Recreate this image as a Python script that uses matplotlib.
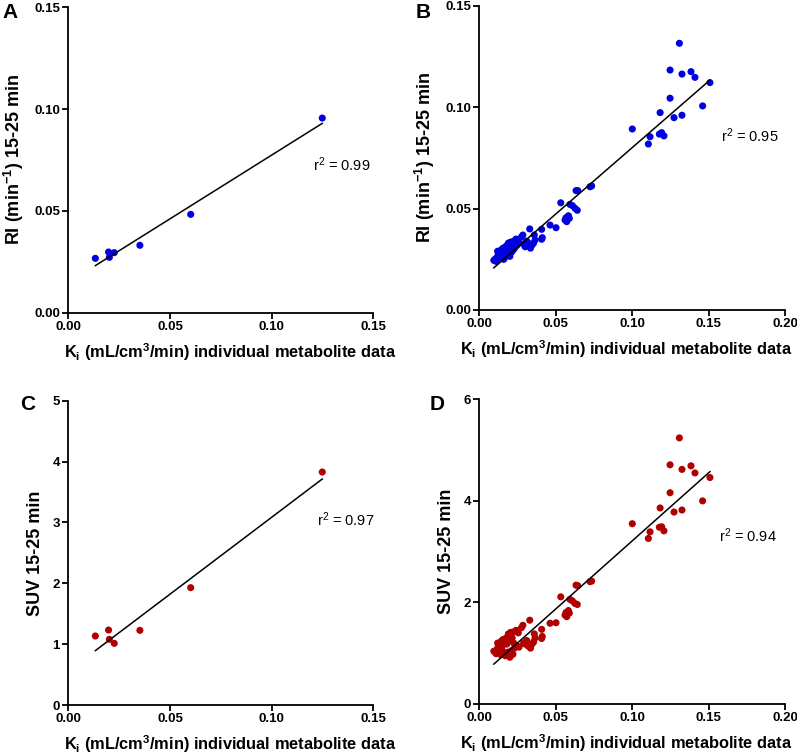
import matplotlib
matplotlib.use("Agg")
import matplotlib.pyplot as plt
import numpy as np

plt.rcParams['font.family'] = ['Liberation Sans', 'DejaVu Sans']
plt.rcParams['mathtext.fontset'] = 'custom'
plt.rcParams['mathtext.rm'] = 'Liberation Sans'
plt.rcParams['mathtext.bf'] = 'Liberation Sans:bold'
plt.rcParams['mathtext.it'] = 'Liberation Sans:italic'

# ---- Panels A / C (7 subjects) ----
ki_ac = [0.0133, 0.0198, 0.0202, 0.0226, 0.0352, 0.0602, 0.1249]
ri_a = [0.0267, 0.0298, 0.0272, 0.0295, 0.0331, 0.0483, 0.0956]
suv_c = [1.134, 1.232, 1.079, 1.013, 1.227, 1.928, 3.828]

# ---- Panels B / D (shared Ki values) ----
ki_bd = [0.1309, 0.1248, 0.1326, 0.1385, 0.1411, 0.1509, 0.1248, 0.1461, 0.1183,
         0.1274, 0.1326, 0.1001, 0.1178, 0.1193, 0.1208, 0.1117, 0.1106,
         0.0633, 0.0644, 0.0724, 0.0735, 0.0533, 0.0593, 0.0609, 0.0626, 0.0641,
         0.0583, 0.0567, 0.0561, 0.0572, 0.0589, 0.0502, 0.0463, 0.0408, 0.0408, 0.0412,
         0.0095, 0.0105, 0.0110, 0.0120, 0.0125, 0.0130, 0.0135, 0.0140, 0.0145, 0.0150,
         0.0155, 0.0160, 0.0165, 0.0170, 0.0175, 0.0180, 0.0185, 0.0190, 0.0195, 0.0200,
         0.0205, 0.0210, 0.0215, 0.0220, 0.0225, 0.0230, 0.0240, 0.0245, 0.0255, 0.0260,
         0.0275, 0.0285, 0.0290, 0.0300, 0.0310, 0.0320, 0.0330, 0.0335, 0.0345, 0.0355,
         0.0360, 0.0365, 0.0150, 0.0185, 0.0225, 0.0120]
ri_b = [0.1316, 0.1184, 0.1164, 0.1176, 0.1148, 0.1122, 0.1045, 0.1007, 0.0974,
        0.0949, 0.0961, 0.0893, 0.0868, 0.0875, 0.0859, 0.0855, 0.0819,
        0.0589, 0.0589, 0.0608, 0.0612, 0.0529, 0.0521, 0.0515, 0.0502, 0.0492,
        0.0465, 0.0455, 0.0444, 0.0436, 0.0452, 0.0406, 0.0419, 0.0398, 0.0349, 0.0357,
        0.0245, 0.0252, 0.0240, 0.0265, 0.0280, 0.0272, 0.0290, 0.0258, 0.0298, 0.0282,
        0.0305, 0.0250, 0.0300, 0.0262, 0.0315, 0.0290, 0.0275, 0.0330, 0.0310, 0.0265,
        0.0335, 0.0285, 0.0320, 0.0295, 0.0340, 0.0305, 0.0350, 0.0318, 0.0345, 0.0330,
        0.0360, 0.0370, 0.0325, 0.0312, 0.0340, 0.0330, 0.0400, 0.0305, 0.0320, 0.0330,
        0.0370, 0.0345, 0.0265, 0.0320, 0.0310, 0.0290]
suv_d = [5.24, 4.71, 4.62, 4.69, 4.55, 4.46, 4.16, 4.00, 3.86,
         3.78, 3.82, 3.55, 3.48, 3.49, 3.41, 3.39, 3.26,
         2.34, 2.33, 2.41, 2.42, 2.11, 2.06, 2.03, 1.98, 1.96,
         1.84, 1.80, 1.75, 1.72, 1.79, 1.60, 1.59, 1.47, 1.29, 1.33,
         1.04, 1.02, 0.99, 1.10, 1.16, 1.08, 1.20, 0.97, 1.24, 1.14,
         1.27, 1.00, 1.22, 0.95, 1.30, 1.18, 1.02, 1.38, 1.25, 0.92,
         1.41, 1.05, 1.30, 0.98, 1.42, 1.10, 1.45, 1.15, 1.40, 1.12,
         1.50, 1.55, 1.20, 1.18, 1.25, 1.14, 1.65, 1.10, 1.18, 1.22,
         1.38, 1.30, 1.05, 1.30, 1.20, 1.20]

# regression lines: [slope, intercept]
fit_a = [0.626, 0.0148]
fit_b = [0.655, 0.0146]
fit_c = [25.27, 0.557]
fit_d = [26.8, 0.531]

r2_texts = ["r$^2$ = 0.99", "r$^2$ = 0.95", "r$^2$ = 0.97", "r$^2$ = 0.94"]
panel_letters = ["A", "B", "C", "D"]

xlabel = r"K$_{\mathbf{i}}$ (mL/cm$^{\mathbf{3}}$/min) individual metabolite data"
ylabel_ri = r"RI (min$^{\mathbf{-1}}$) 15-25 min"
ylabel_suv = "SUV 15-25 min"

blue = "#0000e0"
red = "#b00000"

W, H = 797, 756
fig = plt.figure(figsize=(W / 100, H / 100), dpi=100)

def ax_at(x0, y0, x1, y1):
    return fig.add_axes([x0 / W, 1 - y1 / H, (x1 - x0) / W, (y1 - y0) / H])

axA = ax_at(68.3, 7.3, 373.3, 312.7)
axB = ax_at(479.3, 6.0, 785.0, 310.0)
axC = ax_at(68.3, 400.7, 373.3, 705.0)
axD = ax_at(479.3, 399.3, 785.0, 704.0)

specs = [
    (axA, ki_ac, ri_a, fit_a, blue, (0, 0.15), [0, 0.05, 0.10, 0.15], (0, 0.15),
     [0, 0.05, 0.10, 0.15], "{:.2f}", ylabel_ri, (0.1202, 0.0725), 0.53),
    (axB, ki_bd, ri_b, fit_b, blue, (0, 0.20), [0, 0.05, 0.10, 0.15, 0.20], (0, 0.15),
     [0, 0.05, 0.10, 0.15], "{:.2f}", ylabel_ri, (0.158, 0.0859), 0.48),
    (axC, ki_ac, suv_c, fit_c, red, (0, 0.15), [0, 0.05, 0.10, 0.15], (0, 5),
     [0, 1, 2, 3, 4, 5], "{:.0f}", ylabel_suv, (0.1222, 3.04), 0.53),
    (axD, ki_bd, suv_d, fit_d, red, (0, 0.20), [0, 0.05, 0.10, 0.15, 0.20], (0, 6),
     [0, 2, 4, 6], "{:.0f}", ylabel_suv, (0.157, 3.31), 0.48),
]

for i, (ax, xs, ys, fit, col, xlim, xt, ylim, yt, yfmt, ylab, r2pos, xlx) in enumerate(specs):
    ax.scatter(xs, ys, s=26, color=col, edgecolors='none', zorder=3, clip_on=False)
    xx = np.array([min(xs), max(xs)])
    ax.plot(xx, fit[0] * xx + fit[1], color='black', lw=1.1, zorder=4)
    ax.set_xlim(*xlim)
    ax.set_ylim(*ylim)
    ax.set_xticks(xt)
    ax.set_xticklabels(["{:.2f}".format(v) for v in xt])
    ax.set_yticks(yt)
    ax.set_yticklabels([yfmt.format(v) for v in yt])
    for s in ['top', 'right']:
        ax.spines[s].set_visible(False)
    for s in ['left', 'bottom']:
        ax.spines[s].set_linewidth(1.3)
    ax.tick_params(direction='out', length=4, width=1.3, labelsize=9.5, pad=2)
    for lab in ax.get_xticklabels() + ax.get_yticklabels():
        lab.set_fontweight('bold')
    ax.set_xlabel(xlabel, fontsize=11.8, fontweight='bold', labelpad=6)
    ax.xaxis.set_label_coords(xlx, -0.093)
    ax.set_ylabel(ylab, fontsize=13, fontweight='bold', labelpad=6)
    ax.text(r2pos[0], r2pos[1], r2_texts[i], fontsize=10.5, ha='left', va='center')
    ax.set_facecolor('none')

fig.text(10 / W, 1 - 12 / H, "A", fontsize=15, fontweight='bold', ha='center', va='center')
fig.text(423 / W, 1 - 12 / H, "B", fontsize=15, fontweight='bold', ha='center', va='center')
fig.text(28 / W, 1 - 405 / H, "C", fontsize=15, fontweight='bold', ha='center', va='center')
fig.text(437 / W, 1 - 405 / H, "D", fontsize=15, fontweight='bold', ha='center', va='center')

fig.savefig("out.png", dpi=100)
